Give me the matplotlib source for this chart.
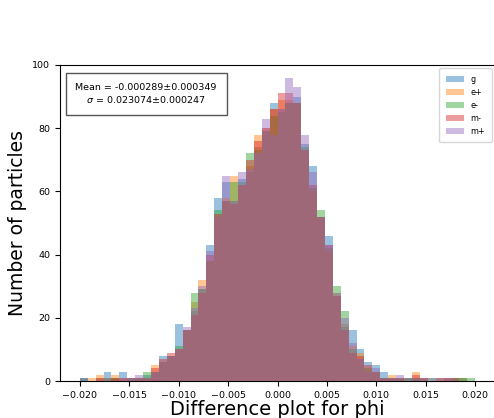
import numpy as np
import matplotlib
matplotlib.use("Agg")
import matplotlib.pyplot as plt

# Histogram binning of the phi residuals
bin_edges = np.linspace(-0.02, 0.02, 51)

labels = ["g", "e+", "e-", "m-", "m+"]

counts_g = [1, 0, 1, 3, 1, 3, 1, 1, 2, 3,
            8, 8, 18, 16, 22, 29, 43, 58, 63, 57,
            64, 66, 74, 79, 88, 86, 88, 90, 75, 68,
            52, 46, 27, 17, 16, 10, 6, 5, 3, 1,
            1, 1, 1, 0, 0, 1, 1, 1, 1, 0]
counts_ep = [0, 1, 2, 1, 2, 1, 0, 1, 1, 5,
             6, 8, 10, 16, 25, 32, 38, 52, 58, 65,
             62, 68, 78, 80, 86, 89, 89, 88, 73, 60,
             52, 41, 28, 18, 11, 9, 3, 3, 1, 2,
             1, 1, 3, 1, 0, 0, 1, 0, 1, 0]
counts_em = [1, 0, 0, 1, 1, 0, 1, 1, 3, 3,
             6, 8, 11, 16, 28, 29, 38, 54, 57, 63,
             63, 72, 73, 79, 84, 85, 88, 88, 74, 61,
             54, 42, 30, 22, 10, 7, 4, 3, 1, 1,
             1, 1, 1, 1, 1, 0, 0, 1, 1, 1]
counts_mm = [0, 0, 1, 0, 1, 1, 1, 1, 1, 4,
             7, 9, 10, 16, 21, 28, 40, 53, 57, 56,
             62, 70, 76, 80, 86, 91, 91, 88, 73, 62,
             52, 43, 27, 16, 9, 8, 5, 3, 1, 1,
             1, 0, 2, 1, 0, 1, 1, 1, 0, 0]
counts_mp = [1, 0, 0, 1, 0, 1, 1, 2, 1, 3,
             6, 8, 10, 17, 23, 30, 41, 52, 65, 57,
             66, 67, 72, 83, 78, 86, 96, 93, 78, 66,
             52, 43, 28, 20, 12, 7, 3, 4, 1, 1,
             2, 1, 1, 1, 1, 0, 1, 0, 0, 0]

series = [counts_g, counts_ep, counts_em, counts_mm, counts_mp]

stats_text = "Mean = -0.000289\u00b10.000349\n$\\sigma$ = 0.023074\u00b10.000247"

fig = plt.figure(figsize=(4.94, 4.18), dpi=100)
ax = fig.add_axes([0.1215, 0.0885, 0.8805, 0.756])

for lab, vals in zip(labels, series):
    ax.hist(bin_edges[:-1], bins=bin_edges, weights=vals, alpha=0.45, label=lab)

ax.set_ylim(0, 100)
ax.set_xticks(np.arange(-0.02, 0.0201, 0.005))
ax.tick_params(labelsize=6.8)
ax.set_xlabel("Difference plot for phi", fontsize=14, labelpad=0)
ax.set_ylabel("Number of particles", fontsize=13.5)

ax.text(0.198, 0.908, stats_text, transform=ax.transAxes, ha="center", va="center",
        fontsize=6.8, linespacing=1.2,
        bbox=dict(boxstyle="square,pad=1.05", facecolor="white", edgecolor="#555555"))

ax.legend(loc="upper right", fontsize=5.8, handlelength=2.3, borderpad=0.8,
          borderaxespad=0.4)

fig.savefig("out.png", dpi=100)
